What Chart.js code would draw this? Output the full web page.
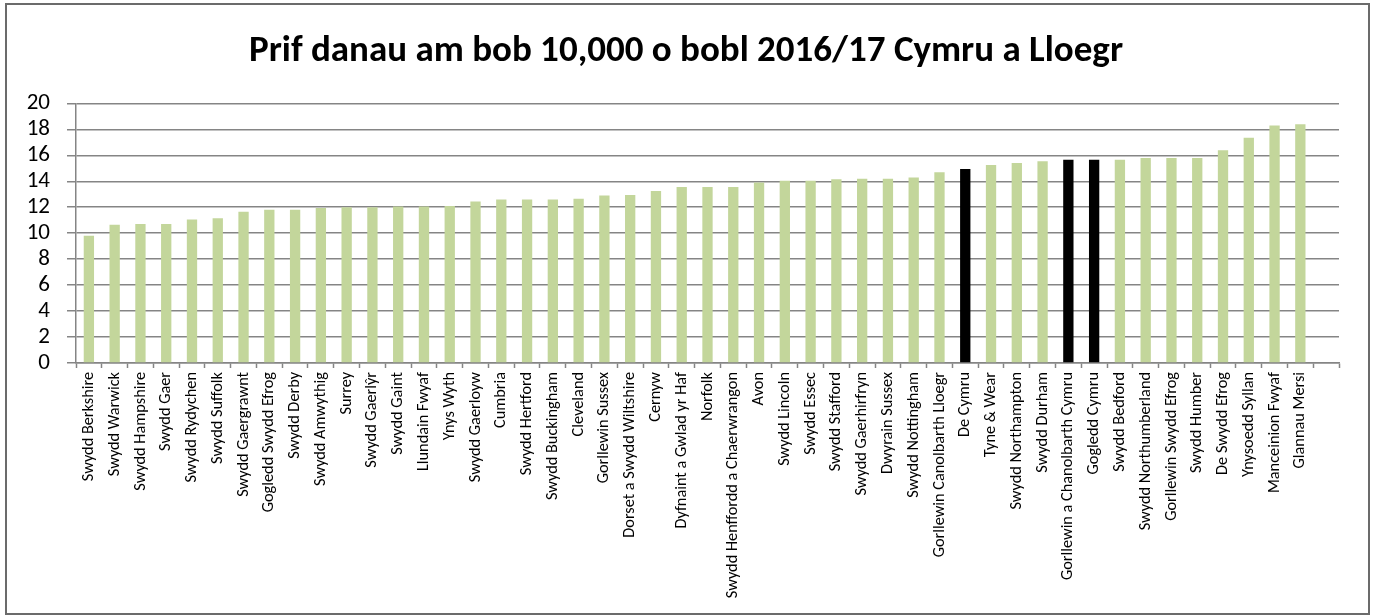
<!DOCTYPE html>
<html>
<head>
<meta charset="utf-8">
<script src="https://cdn.jsdelivr.net/npm/chart.js@4.4.1/dist/chart.umd.min.js"></script>
<style>
  html, body { margin: 0; padding: 0; background: #fff; }
  #wrap {
    position: absolute; left: 5px; top: 3px;
    width: 1365px; height: 612px;
    border: 2px solid #6b6b6b; box-sizing: border-box;
  }
  #chart { display: block; }
</style>
</head>
<body>
<div id="wrap"><canvas id="chart"></canvas></div>
<script>
// Data
const titleText = 'Prif danau am bob 10,000 o bobl 2016/17 Cymru a Lloegr';

const ardaloedd = [
  'Swydd Berkshire', 'Swydd Warwick', 'Swydd Hampshire', 'Swydd Gaer', 'Swydd Rydychen',
  'Swydd Suffolk', 'Swydd Gaergrawnt', 'Gogledd Swydd Efrog', 'Swydd Derby', 'Swydd Amwythig',
  'Surrey', 'Swydd Gaerlŷr', 'Swydd Gaint', 'Llundain Fwyaf', 'Ynys Wyth',
  'Swydd Gaerloyw', 'Cumbria', 'Swydd Hertford', 'Swydd Buckingham', 'Cleveland',
  'Gorllewin Sussex', 'Dorset a Swydd Wiltshire', 'Cernyw', 'Dyfnaint a Gwlad yr Haf', 'Norfolk',
  'Swydd Henffordd a Chaerwrangon', 'Avon', 'Swydd Lincoln', 'Swydd Essec', 'Swydd Stafford',
  'Swydd Gaerhirfryn', 'Dwyrain Sussex', 'Swydd Nottingham', 'Gorllewin Canolbarth Lloegr', 'De Cymru',
  'Tyne & Wear', 'Swydd Northampton', 'Swydd Durham', 'Gorllewin a Chanolbarth Cymru', 'Gogledd Cymru',
  'Swydd Bedford', 'Swydd Northumberland', 'Gorllewin Swydd Efrog', 'Swydd Humber', 'De Swydd Efrog',
  'Ynysoedd Syllan', 'Manceinion Fwyaf', 'Glannau Mersi', ''
];

const tanau = [
  9.8, 10.65, 10.7, 10.7, 11.05,
  11.15, 11.65, 11.8, 11.8, 11.95,
  12.0, 12.0, 12.05, 12.05, 12.1,
  12.45, 12.6, 12.6, 12.6, 12.65,
  12.9, 12.95, 13.25, 13.55, 13.55,
  13.55, 13.9, 14.05, 14.05, 14.15,
  14.2, 14.2, 14.3, 14.7, 14.95,
  15.25, 15.4, 15.55, 15.65, 15.65,
  15.65, 15.8, 15.8, 15.8, 16.4,
  17.35, 18.3, 18.4, null
];

const ardaloeddCymru = ['De Cymru', 'Gorllewin a Chanolbarth Cymru', 'Gogledd Cymru'];

const yTicks = [0, 2, 4, 6, 8, 10, 12, 14, 16, 18, 20];

const lliwGwyrdd = '#c3d69b';
const lliwCymru = '#000000';
const lliwGrid = '#858585';
const ffont = 'Carlito, Lato, "DejaVu Sans", sans-serif';

// Lliwiau'r bariau
const lliwiau = ardaloedd.map(a => ardaloeddCymru.includes(a) ? lliwCymru : lliwGwyrdd);

// symud canol y teitl i'r dde ychydig, fel yn y llun
const symudTeitl = {
  id: 'symudTeitl',
  afterLayout(chart) {
    if (chart.titleBlock) chart.titleBlock.left += 26;
  }
};

const canvas = document.getElementById('chart');
canvas.width = 1361;
canvas.height = 608;

new Chart(canvas.getContext('2d'), {
  type: 'bar',
  data: {
    labels: ardaloedd,
    datasets: [{
      data: tanau,
      backgroundColor: lliwiau,
      borderWidth: 0,
      barPercentage: 0.4,
      categoryPercentage: 1.0
    }]
  },
  plugins: [symudTeitl],
  options: {
    responsive: false,
    animation: false,
    layout: { padding: { left: 0, right: 29, top: 0, bottom: 0 } },
    plugins: {
      legend: { display: false },
      tooltip: { enabled: false },
      title: {
        display: true,
        text: titleText,
        color: '#000',
        font: { family: ffont, size: 37, weight: 'bold' },
        padding: { top: 25, bottom: 29 }
      }
    },
    scales: {
      x: {
        offset: true,
        grid: {
          display: true,
          drawOnChartArea: false,
          drawTicks: true,
          tickLength: 5,
          tickColor: lliwGrid,
          tickWidth: 1.5,
          offset: true
        },
        border: { display: true, color: lliwGrid, width: 1.5 },
        ticks: {
          autoSkip: false,
          maxRotation: 90,
          minRotation: 90,
          padding: 4,
          color: '#000',
          font: { family: ffont, size: 16.3 }
        },
        afterFit: scale => { scale.height = 250; }
      },
      y: {
        min: 0,
        max: 20,
        afterBuildTicks: scale => { scale.ticks = yTicks.map(v => ({ value: v })); },
        grid: {
          color: lliwGrid,
          lineWidth: 1.5,
          tickLength: 9,
          tickColor: lliwGrid
        },
        border: { display: true, color: lliwGrid, width: 1.5 },
        ticks: {
          autoSkip: false,
          padding: 17,
          color: '#000',
          font: { family: ffont, size: 23 }
        },
        afterFit: scale => { scale.width = 69; }
      }
    }
  }
});
</script>
</body>
</html>
